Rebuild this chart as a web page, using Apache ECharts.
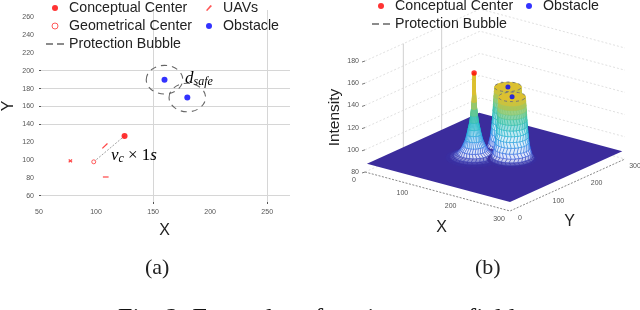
<!DOCTYPE html>
<html><head><meta charset="utf-8">
<style>html,body{margin:0;padding:0;background:#fff}#c{width:640px;height:310px}</style>
<script src="https://cdn.jsdelivr.net/npm/echarts@6/dist/echarts.min.js"></script>
</head><body><div id="c"></div>
<script>
// ---- panel (a) data
const xLabelVals = [50,100,150,200,250];
const yLabelVals = [60,80,100,120,140,160,180,200,220,240,260];
const xGridVals = [150,250];
const yGridVals = [60,140,160,180,200];
const conceptualCenter = [[125,127]];
const geometricalCenter = [[98,98]];
const obstacles = [[160,190],[180,170]];
const bubbleRadius = 16;
const uavSegments = [[76,97.5,79,100.5],[76,100.5,79,97.5],[105.5,113,110,118.5],[106,81,111,81]];
// ---- panel (b) data
const xyTicks3d = [0,100,200,300];
const zTicks3d = [80,100,120,140,160,180];
const wallYLines = [100,200];
const floorX = [4,300], floorY = [0,293], floorZ = 88;
const center3d = [125,127,164];
const obstacles3d = [[145,190,144],[179,158,144]];
const spikeZ = [88,89,90,92,95,99,104,109,114,120,126,132,138,145,152,158,164];
const spikeR = [46,39,33,27,22,18,14,11.5,9.5,7,5.5,4.2,3.2,2.5,2,1.7,1.4];
const towerZ = [88,89,91,94,98,103,108,113,118,123,128,132,136,140,144];
const towerR = [40,36,33,31,29,27.5,26.5,25.5,24.6,24,23.5,23,22.5,22,21.5];
const colorZ = [88,96,106,116,126,134,144];
const colorHex = ['#3b2c9c','#2f5ce0','#1890e0','#10b0c8','#35c0a0','#8cc870','#dcc030'];

const SANS = '"Liberation Sans", Arial, sans-serif';
const SERIF = '"Liberation Serif", serif';

// oblique projection of the 3-D box on the plane of the hidden second grid
function project(X,Y,Z){
  return [365 + 145*X/300 + 115*Y/300, 172 + 39*X/300 - 52*Y/300 - (Z-80)*1.11];
}
function colorAt(z){
  if(z<=colorZ[0]) return colorHex[0];
  for(let i=1;i<colorZ.length;i++){
    if(z<=colorZ[i]){
      const t=(z-colorZ[i-1])/(colorZ[i]-colorZ[i-1]);
      return echarts.color.lerp(t,[colorHex[i-1],colorHex[i]]);
    }
  }
  return colorHex[colorHex.length-1];
}
function whiteness(z){
  if(z<=89) return 0;
  if(z<=93) return 0.85*(z-89)/4;
  if(z<=112) return 0.85;
  if(z>=138) return 0;
  return 0.85*(138-z)/26;
}
function peakSeries(cx,cy,zs,rs){
  const SEG = 30, step = Math.PI*2/SEG;
  return {
    type:'custom', xAxisIndex:1, yAxisIndex:1, silent:true, clip:false, z:3,
    data: zs.map((z,i)=>[i]),
    renderItem(params,api){
      const i = api.value(0);
      const pt=(k,a)=>api.coord(project(cx+rs[k]*Math.cos(a),cy+rs[k]*Math.sin(a),zs[k]));
      const children=[];
      if(i===zs.length-1) {
        const pts=[];
        for(let j=0;j<SEG;j++) pts.push(pt(i,j*step));
        children.push({type:'polygon',shape:{points:pts},style:{fill:colorAt(zs[i]),stroke:null}});
        return {type:'group',children};
      }
      const off0=(i%2)*step/2, off1=((i+1)%2)*step/2;
      const z=(zs[i]+zs[i+1])/2, col=colorAt(z);
      const fill=echarts.color.lerp(whiteness(z),[col,'#ffffff']);
      const cells=[];
      for(let j=0;j<SEG;j++){
        const a0=j*step+off0,a1=(j+1)*step+off0,b0=j*step+off1,b1=(j+1)*step+off1;
        cells.push([pt(i,a0),pt(i,a1),pt(i+1,b1),pt(i+1,b0)]);
      }
      cells.sort((p,q)=>(p[0][1]+p[1][1])-(q[0][1]+q[1][1]));
      cells.forEach(c=>children.push({type:'polygon',shape:{points:c},
        style:{fill:fill,stroke:col,lineWidth:0.5}}));
      return {type:'group',children};
    }
  };
}
const legendBase = {orient:'vertical',itemWidth:18,itemHeight:6,itemGap:4,padding:0,selectedMode:false,
  textStyle:{fontFamily:SANS,fontSize:14.2,color:'#222'}};
const dashIcon = 'path://M0 0H7V1.5H0ZM11 0H18V1.5H11Z';
const option = {
  animation:false,
  backgroundColor:'#fff',
  grid:[
    {left:35.7,top:10,width:254.3,height:192},
    {left:320,top:0,width:320,height:310}
  ],
  xAxis:[
    {type:'value',gridIndex:0,min:50,max:270,
      axisLine:{show:false},
      axisTick:{show:true,length:2,customValues:xGridVals,lineStyle:{color:'#555',width:1}},
      axisLabel:{customValues:xLabelVals,color:'#555',fontFamily:SANS,fontSize:7,margin:7},
      splitLine:{show:true,lineStyle:{color:'#d6d6d6',width:1}},
      name:'X',nameLocation:'middle',nameGap:21,nameTextStyle:{fontFamily:SANS,fontSize:16,color:'#222'}},
    {type:'value',gridIndex:1,min:320,max:640,show:false}
  ],
  yAxis:[
    {type:'value',gridIndex:0,min:53,max:268,
      axisLine:{show:false},
      axisTick:{show:true,inside:true,length:2,customValues:yGridVals,lineStyle:{color:'#555',width:1}},
      axisLabel:{customValues:yLabelVals,color:'#555',fontFamily:SANS,fontSize:7,margin:5},
      splitLine:{show:true,lineStyle:{color:'#d6d6d6',width:1}},
      name:'Y',nameLocation:'middle',nameGap:22,nameRotate:90,nameTextStyle:{fontFamily:SANS,fontSize:16,color:'#222'}},
    {type:'value',gridIndex:1,min:0,max:310,inverse:true,show:false}
  ],
  legend:[
    Object.assign({left:46,top:1,data:[
        {name:'Conceptual Center',icon:'circle',itemStyle:{color:'#f00'}},
        {name:'Geometrical Center',icon:'circle',itemStyle:{color:'#fff',borderColor:'#f33',borderWidth:1}},
        {name:'Protection Bubble',icon:dashIcon,itemStyle:{color:'#666'}}
      ]},legendBase),
    Object.assign({left:206,top:1,data:[
        {name:'UAVs',icon:'path://M0 5.2L4.5 0L6 1L1.2 6Z',itemStyle:{color:'#f55'}},
        {name:'Obstacle',icon:'circle',itemStyle:{color:'#00f'}}
      ]},legendBase),
    Object.assign({left:372,top:-1,data:[
        {name:'Conceptual Center',icon:'circle',itemStyle:{color:'#f00'}},
        {name:'Protection Bubble',icon:dashIcon,itemStyle:{color:'#666'}}
      ]},legendBase),
    Object.assign({left:526,top:-1,data:[{name:'Obstacle',icon:'circle',itemStyle:{color:'#00f'}}]},legendBase)
  ],
  graphic:[
    {type:'text',left:145,top:257,style:{text:'(a)',font:'22px '+SERIF,fill:'#222'}},
    {type:'text',left:475,top:257,style:{text:'(b)',font:'22px '+SERIF,fill:'#222'}},
    {type:'text',left:118,top:306,style:{text:'Fig. 2: Examples of environment field.',font:'26px '+SERIF,fill:'#111'}}
  ],
  series:[
    // panel (a)
    {name:'Velocity',type:'line',data:[geometricalCenter[0],conceptualCenter[0]],symbol:'none',silent:true,
      lineStyle:{color:'#888',width:0.8,type:[2,1.5]},z:2},
    {name:'Conceptual Center',type:'scatter',data:conceptualCenter,symbolSize:6,itemStyle:{color:'#f00'},z:4},
    {name:'Geometrical Center',type:'scatter',data:geometricalCenter,symbolSize:4,
      itemStyle:{color:'#fff',borderColor:'#f33',borderWidth:1},z:4},
    {name:'UAVs',type:'custom',data:uavSegments,z:4,
      renderItem(params,api){
        const a=api.coord([api.value(0),api.value(1)]),b=api.coord([api.value(2),api.value(3)]);
        return {type:'line',shape:{x1:a[0],y1:a[1],x2:b[0],y2:b[1]},style:{stroke:'#f44',lineWidth:1.2}};
      }},
    {name:'Protection Bubble',type:'custom',data:obstacles,z:3,
      renderItem(params,api){
        const v=[api.value(0),api.value(1)],c=api.coord(v),s=api.size([bubbleRadius,bubbleRadius]);
        return {type:'ellipse',shape:{cx:c[0],cy:c[1],rx:s[0],ry:s[1]},
          style:{fill:null,stroke:'#666',lineWidth:1.1,lineDash:[6,5]}};
      }},
    {name:'Obstacle',type:'scatter',data:obstacles,symbolSize:6,itemStyle:{color:'#00f'},z:4},
    {name:'Annotations',type:'custom',z:5,silent:true,
      data:[[178,191,0],[113,105,1]],
      renderItem(params,api){
        const c=api.coord([api.value(0),api.value(1)]);
        const txt=['{i|d}{s|safe}','{i|v}{s|c}{r| × 1}{i|s}'][api.value(2)];
        return {type:'text',x:c[0],y:c[1],style:{text:txt,verticalAlign:'middle',align:'left',
          rich:{i:{font:'italic 17px '+SERIF,color:'#222'},
                s:{font:'italic 12px '+SERIF,color:'#333',padding:[6,0,0,0]},
                r:{font:'17px '+SERIF,color:'#222'}}}};
      }},
    // panel (b): walls and axes
    {type:'custom',xAxisIndex:1,yAxisIndex:1,silent:true,z:1,data:[[0]],
      renderItem(params,api){
        const P=(X,Y,Z)=>api.coord(project(X,Y,Z));
        const ch=[];
        const poly=(pts,style)=>ch.push({type:'polyline',shape:{points:pts},style:Object.assign({fill:null},style)});
        wallYLines.forEach(y=>poly([P(0,y,80),P(0,y,180)],{stroke:'#d0d0d0',lineWidth:1}));
        zTicks3d.forEach(z=>{
          poly([P(0,0,z),P(0,300,z),P(300,300,z)],{stroke:'#d8d8d8',lineWidth:0.8,lineDash:[2,2]});
          const p=P(0,0,z);
          poly([[p[0]-3,p[1]+1],[p[0],p[1]]],{stroke:'#555',lineWidth:0.8});
          ch.push({type:'text',x:p[0]-6,y:p[1],style:{text:String(z),align:'right',verticalAlign:'middle',font:'7px '+SANS,fill:'#555'}});
        });
        poly([P(0,0,80),P(300,0,80),P(300,300,80)],{stroke:'#555',lineWidth:0.7,lineDash:[2,1.5]});
        xyTicks3d.forEach(x=>{
          const p=P(x,0,80);
          ch.push({type:'text',x:p[0]-11,y:p[1]+8,style:{text:String(x),align:'center',verticalAlign:'middle',font:'7px '+SANS,fill:'#555'}});
        });
        xyTicks3d.forEach(y=>{
          const p=P(300,y,80);
          ch.push({type:'text',x:p[0]+10,y:p[1]+7,style:{text:String(y),align:'center',verticalAlign:'middle',font:'7px '+SANS,fill:'#555'}});
        });
        const tx=P(150,0,80),ty=P(300,150,80),tz=P(0,0,130);
        ch.push({type:'text',x:tx[0]+4,y:tx[1]+36,style:{text:'X',align:'center',verticalAlign:'middle',font:'16px '+SANS,fill:'#222'}});
        ch.push({type:'text',x:ty[0]+2,y:ty[1]+37,style:{text:'Y',align:'center',verticalAlign:'middle',font:'16px '+SANS,fill:'#222'}});
        ch.push({type:'text',x:tz[0]-30,y:tz[1]+1,rotation:Math.PI/2,style:{text:'Intensity',align:'center',verticalAlign:'middle',font:'15.5px '+SANS,fill:'#222'}});
        return {type:'group',children:ch};
      }},
    // floor
    {type:'custom',xAxisIndex:1,yAxisIndex:1,silent:true,z:2,data:[[0]],
      renderItem(params,api){
        const P=(X,Y)=>api.coord(project(X,Y,floorZ));
        return {type:'polygon',shape:{points:[P(floorX[0],floorY[0]),P(floorX[1],floorY[0]),P(floorX[1],floorY[1]),P(floorX[0],floorY[1])]},
          style:{fill:colorHex[0]}};
      }},
    peakSeries(obstacles3d[0][0],obstacles3d[0][1],towerZ,towerR),
    peakSeries(center3d[0],center3d[1],spikeZ,spikeR),
    peakSeries(obstacles3d[1][0],obstacles3d[1][1],towerZ,towerR),
    // overlay on the peaks
    {type:'custom',xAxisIndex:1,yAxisIndex:1,silent:true,z:5,data:obstacles3d,clip:false,
      renderItem(params,api){
        const x=api.value(0),y=api.value(1),z=api.value(2),pts=[];
        for(let j=0;j<36;j++){const a=j*Math.PI/18;pts.push(api.coord(project(x+22*Math.cos(a),y+22*Math.sin(a),z)));}
        return {type:'polygon',shape:{points:pts},style:{fill:null,stroke:'#777',lineWidth:1,lineDash:[3,3]}};
      }},
    {type:'scatter',xAxisIndex:1,yAxisIndex:1,z:6,symbolSize:5,itemStyle:{color:'#00f'},silent:true,
      data:obstacles3d.map(p=>project(p[0],p[1],p[2]))},
    {type:'scatter',xAxisIndex:1,yAxisIndex:1,z:6,symbolSize:5.5,itemStyle:{color:'#f00'},silent:true,
      data:[project(center3d[0],center3d[1],center3d[2])]}
  ]
};
const chart = echarts.init(document.getElementById('c'),null,{renderer:'canvas',width:640,height:310});
chart.setOption(option);
</script></body></html>
